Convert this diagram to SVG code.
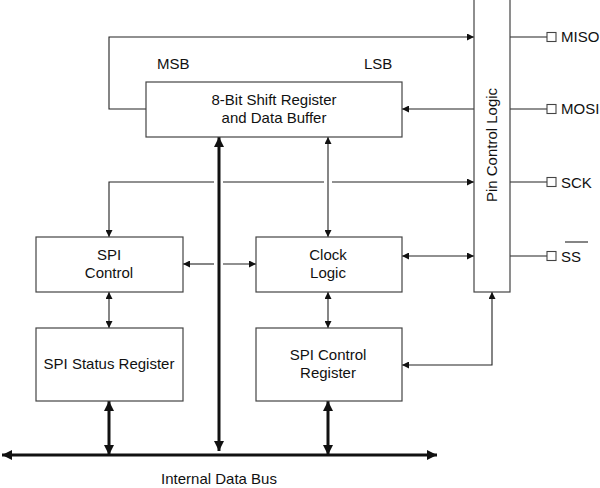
<svg xmlns="http://www.w3.org/2000/svg" width="600" height="488" viewBox="0 0 600 488">
<defs>
<marker id="a" viewBox="0 0 10 10" refX="10" refY="5" markerWidth="8" markerHeight="7" markerUnits="userSpaceOnUse" orient="auto-start-reverse"><path d="M0,0 L10,5 L0,10 z" fill="#111"/></marker>
<marker id="b" viewBox="0 0 10 10" refX="10" refY="5" markerWidth="12" markerHeight="10" markerUnits="userSpaceOnUse" orient="auto-start-reverse"><path d="M0,0 L10,5 L0,10 z" fill="#111"/></marker>
</defs>
<style>
.box{fill:#fff;stroke:#444;stroke-width:1.2}
.t{font-family:"Liberation Sans",Arial,sans-serif;font-size:15px;fill:#111}
.c{text-anchor:middle}
.l{fill:none;stroke:#222;stroke-width:1.1}
.k{fill:none;stroke:#111;stroke-width:3}
.pin{fill:#fff;stroke:#444;stroke-width:1.1}
</style>
<rect width="600" height="488" fill="#fff"/>
<g id="connectors">
<polyline class="l" points="146,109 109,109 109,37 474,37" marker-end="url(#a)"/>
<line class="l" x1="474" y1="109" x2="402" y2="109" marker-end="url(#a)"/>
<polyline class="l" points="214,182 109,182 109,237" marker-end="url(#a)"/>
<line class="l" x1="223" y1="182" x2="324" y2="182"/>
<line class="l" x1="332" y1="182" x2="474" y2="182" marker-end="url(#a)"/>
<line class="l" x1="328" y1="137" x2="328" y2="237" marker-start="url(#a)" marker-end="url(#a)"/>
<line class="l" x1="214" y1="264" x2="183" y2="264" marker-end="url(#a)"/>
<line class="l" x1="223" y1="264" x2="256" y2="264" marker-end="url(#a)"/>
<line class="l" x1="402" y1="256" x2="474" y2="256" marker-start="url(#a)" marker-end="url(#a)"/>
<line class="l" x1="109" y1="292" x2="109" y2="328" marker-start="url(#a)" marker-end="url(#a)"/>
<line class="l" x1="328" y1="292" x2="328" y2="328" marker-start="url(#a)" marker-end="url(#a)"/>
<polyline class="l" points="492,292 492,365 402,365" marker-start="url(#a)" marker-end="url(#a)"/>
<line class="l" x1="510" y1="37" x2="547" y2="37"/>
<line class="l" x1="510" y1="109" x2="547" y2="109"/>
<line class="l" x1="510" y1="182" x2="547" y2="182"/>
<line class="l" x1="510" y1="256" x2="547" y2="256"/>
<line class="k" x1="219" y1="137" x2="219" y2="451" marker-start="url(#b)" marker-end="url(#b)"/>
<line class="k" x1="2" y1="455" x2="437" y2="455" marker-start="url(#b)" marker-end="url(#b)"/>
<line class="k" x1="109" y1="401" x2="109" y2="455" marker-start="url(#b)" marker-end="url(#b)"/>
<line class="k" x1="328" y1="401" x2="328" y2="455" marker-start="url(#b)" marker-end="url(#b)"/>
</g>
<g id="shift-register">
<rect class="box" x="146" y="82" width="256" height="55"/>
<text class="t c" x="274" y="105">8-Bit Shift Register</text>
<text class="t c" x="274" y="123">and Data Buffer</text>
</g>
<g id="msb-lsb">
<text class="t" x="157" y="69">MSB</text>
<text class="t" x="364" y="69">LSB</text>
</g>
<g id="pin-control-logic">
<rect class="box" x="474" y="-1" width="36" height="293"/>
<text class="t c" transform="translate(497,145) rotate(-90)">Pin Control Logic</text>
</g>
<g id="spi-control">
<rect class="box" x="36" y="237" width="147" height="55"/>
<text class="t c" x="109" y="260">SPI</text>
<text class="t c" x="109" y="278">Control</text>
</g>
<g id="clock-logic">
<rect class="box" x="256" y="237" width="146" height="55"/>
<text class="t c" x="328" y="260">Clock</text>
<text class="t c" x="328" y="278">Logic</text>
</g>
<g id="spi-status-register">
<rect class="box" x="36" y="328" width="147" height="73"/>
<text class="t c" x="109" y="369">SPI Status Register</text>
</g>
<g id="spi-control-register">
<rect class="box" x="256" y="328" width="146" height="73"/>
<text class="t c" x="328" y="360">SPI Control</text>
<text class="t c" x="328" y="378">Register</text>
</g>
<g id="pins">
<rect class="pin" x="547" y="32.5" width="9" height="9"/>
<rect class="pin" x="547" y="104.5" width="9" height="9"/>
<rect class="pin" x="547" y="177.5" width="9" height="9"/>
<rect class="pin" x="547" y="251.5" width="9" height="9"/>
<text class="t" x="561" y="42">MISO</text>
<text class="t" x="561" y="114">MOSI</text>
<text class="t" x="561" y="188">SCK</text>
<text class="t" x="561" y="262">SS</text>
<line class="l" x1="565" y1="242" x2="588" y2="242"/>
</g>
<g id="bus-label">
<text class="t c" x="219" y="484">Internal Data Bus</text>
</g>
</svg>
